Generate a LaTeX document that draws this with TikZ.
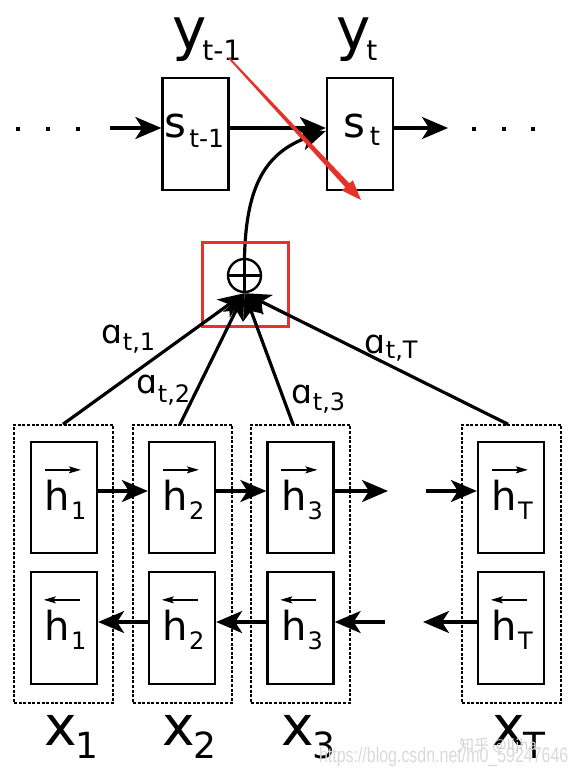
\documentclass[tikz,border=0pt]{standalone}
\usepackage{fontspec}
\setmainfont{DejaVu Sans}
\newfontfamily\wmfont{Liberation Sans}
\newfontfamily\cjkfont{Noto Sans CJK SC}
\usetikzlibrary{arrows.meta,calc}
\definecolor{annred}{HTML}{E5332A}
\newcommand\fs[1]{\fontsize{#1pt}{#1pt}\selectfont}
% #1 main size, #2 main text, #3 kern, #4 drop, #5 sub size, #6 sub text
\newcommand\lab[6]{{\fs{#1}#2}\kern#3pt\raisebox{-#4pt}{\fs{#5}#6}}
\begin{document}
\begin{tikzpicture}[x=1pt,y=-1pt,
  box/.style={draw, line width=2.3pt, minimum width=66pt, inner sep=0pt},
  dbox/.style={draw, line width=1.5pt, dash pattern=on 3pt off 1.6pt, minimum width=99pt, minimum height=278pt, inner sep=0pt},
  arr/.style={line width=3.2pt, -{Stealth[length=26pt,width=22pt,inset=7pt]}},
  oarr/.style={line width=1.3pt, -{Stealth[length=12pt,width=7pt,inset=2.5pt]}},
  txt/.style={anchor=base west, inner sep=0pt, outer sep=0pt},
  dot/.style={rectangle, fill, inner sep=0pt, minimum size=3.8pt}
]
\useasboundingbox (0,0) rectangle (576,773);

% ---------- top row ----------
\node[box, minimum height=112pt] (s1) at (195.5,134) {};
\node[box, minimum height=112pt] (s2) at (360,134) {};
\node[txt] (s1l) at (164.5,137) {\lab{42}{s}{3}{10}{25}{t-1}};
\node[txt] (s2l) at (343,137) {\lab{42}{s}{5}{9}{26}{t}};
\node[txt] (y1l) at (172,50) {\lab{58}{y}{-4}{11}{28}{t-1}};
\node[txt] (y2l) at (336,50) {\lab{58}{y}{-4}{11}{28}{t}};

\node[dot] (ld1) at (18,129) {};
\node[dot] (ld2) at (48,129) {};
\node[dot] (ld3) at (78,129) {};
\node[dot] (rd1) at (474,129) {};
\node[dot] (rd2) at (504,129) {};
\node[dot] (rd3) at (533,129) {};

\coordinate (lin) at (110,128);
\coordinate (rout) at (448,128);
\draw[arr] (lin) -- ([yshift=6pt]s1.west);
\draw[arr] ([yshift=6pt]s1.east) -- ([yshift=6pt]s2.west);
\draw[arr] ([yshift=6pt]s2.east) -- (rout);

% ---------- attention sum ----------
\node[circle, draw, line width=2.4pt, minimum size=33pt, inner sep=0pt] (plus) at (244.5,275.5) {};
\draw[line width=2.4pt] (plus.north) -- (plus.south);
\draw[line width=2.4pt] (plus.west) -- (plus.east);
\draw[arr] (plus.north) .. controls (246,185) and (266,152) .. ([yshift=3pt]s2.west);
\node[draw=annred, line width=3pt, minimum width=86pt, minimum height=84pt, inner sep=0pt] (hl) at (245,284) {};

% ---------- columns ----------
\node[dbox] (d1) at (63.5,564) {};
\node[dbox] (d2) at (182.5,564) {};
\node[dbox] (d3) at (300.5,564) {};
\node[dbox] (d4) at (511.5,564) {};

\foreach \i/\cx/\sub in {1/64/1, 2/182/2, 3/300.5/3, 4/511/T}{
  \node[box, minimum height=111pt] (f\i) at (\cx,497.5) {};
  \node[box, minimum height=112pt] (b\i) at (\cx,628) {};
  \node[txt] (fl\i) at ($(f\i.north west)+(15,70)$) {\lab{40}{h}{1}{9}{24}{\sub}};
  \node[txt] (bl\i) at ($(b\i.north west)+(15,70)$) {\lab{40}{h}{1}{9}{24}{\sub}};
  \draw[oarr] ($(f\i.north west)+(15,29)$) -- ($(f\i.north west)+(51,29)$);
  \draw[oarr] ($(b\i.north west)+(50,29)$) -- ($(b\i.north west)+(14,29)$);
}

% forward / backward recurrences
\coordinate (fo) at (388,491);
\coordinate (fi) at (426,491);
\coordinate (bi) at (385,622);
\coordinate (bo) at (423,622);
\draw[arr] ([yshift=6.5pt]f1.east) -- ([yshift=6.5pt]f2.west);
\draw[arr] ([yshift=6.5pt]f2.east) -- ([yshift=6.5pt]f3.west);
\draw[arr] ([yshift=6.5pt]f3.east) -- (fo);
\draw[arr] (fi) -- ([yshift=6.5pt]f4.west);
\draw[arr] ([yshift=6pt]b2.west) -- ([yshift=6pt]b1.east);
\draw[arr] ([yshift=6pt]b3.west) -- ([yshift=6pt]b2.east);
\draw[arr] (bi) -- ([yshift=6pt]b3.east);
\draw[arr] ([yshift=6pt]b4.west) -- (bo);

% attention connectors
\draw[arr] ([xshift=-0.5pt]d1.north) -- (plus.south);
\draw[arr] ([xshift=-2.5pt]d2.north) -- (plus.south);
\draw[arr] ([xshift=-7.5pt]d3.north) -- (plus.south);
\draw[arr] ([xshift=-3.5pt]d4.north) -- (plus.south);

% attention weights
\node[txt] (a1) at (101,343) {\lab{33}{ɑ}{1}{7}{24}{t,1}};
\node[txt] (a2) at (136,393) {\lab{33}{ɑ}{1}{9}{24}{t,2}};
\node[txt] (a3) at (291,403) {\lab{33}{ɑ}{1}{7}{24}{t,3}};
\node[txt] (a4) at (364,353) {\lab{33}{ɑ}{1}{5}{24}{t,T}};

% inputs
\node[txt] (x1) at (44,745) {\lab{55}{x}{-1}{13}{36}{1}};
\node[txt] (x2) at (162,745) {\lab{55}{x}{-1}{13}{36}{2}};
\node[txt] (x3) at (281,745) {\lab{55}{x}{-1}{13}{36}{3}};
\node[txt] (x4) at (492,745) {\lab{55}{x}{-1}{13}{36}{T}};

% red annotation arrow
\coordinate (ra) at (229,58);
\coordinate (rb) at (361,200);
\coordinate (hb) at ($(rb)!20pt!(ra)$);
\fill[annred] ($(ra)!0.9pt!90:(rb)$) -- ($(hb)!2.8pt!90:(rb)$) -- ($(hb)!7.5pt!90:(rb)$) -- (rb)
  -- ($(hb)!7.5pt!-90:(rb)$) -- ($(hb)!2.8pt!-90:(rb)$) -- ($(ra)!0.9pt!-90:(rb)$) -- cycle;

% watermarks
\node[txt, text=gray!30] (wm1) at (319,762) {\wmfont\scalebox{0.76}[1]{\fs{21}https://blog.csdn.net/m0\_59247646}};
\node[txt, text=gray!35] (wm2) at (459,750) {\cjkfont\fs{15}知乎 @Iljha};
\end{tikzpicture}
\end{document}
